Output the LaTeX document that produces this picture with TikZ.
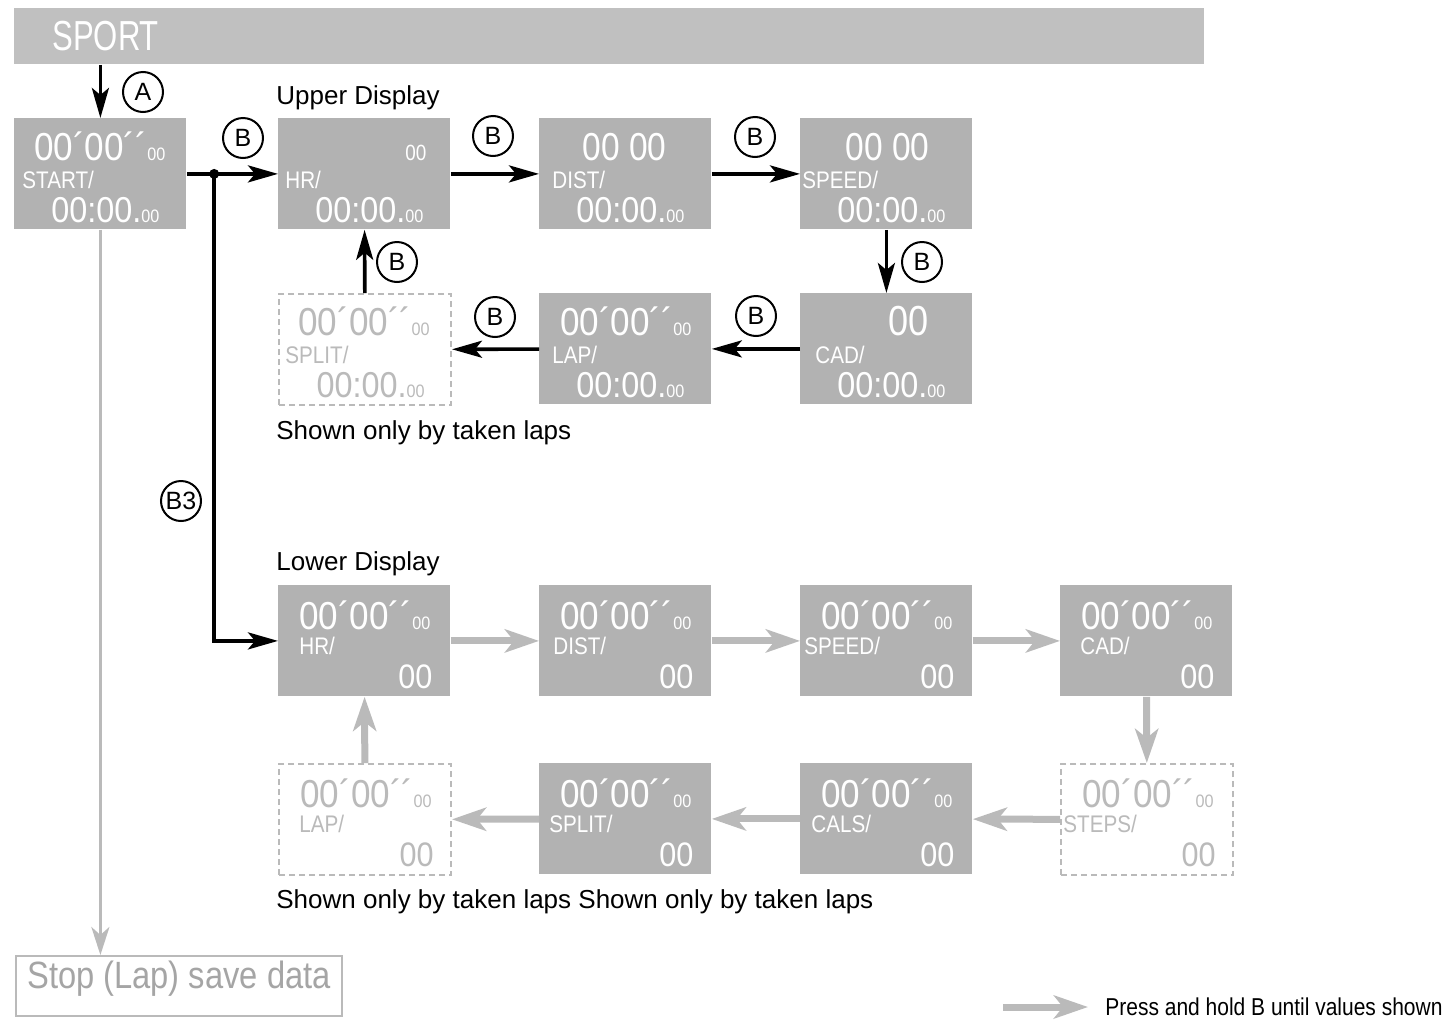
\documentclass[tikz,border=0pt]{standalone}
\usepackage{fontspec}
\setmainfont{Liberation Sans}
\newfontfamily\lcdfont[FakeStretch=0.86]{Liberation Sans}
\newfontfamily\numfont[FakeStretch=0.9]{Liberation Sans}
\newfontfamily\titlefont[FakeStretch=0.74]{Liberation Sans}
\usetikzlibrary{arrows.meta,positioning,calc}
\definecolor{panel}{RGB}{178,178,178}
\definecolor{bar}{RGB}{192,192,192}
\definecolor{faint}{RGB}{186,186,186}
\definecolor{hold}{RGB}{186,186,186}
\definecolor{stopgray}{RGB}{165,165,165}
\newcommand{\fsz}[1]{\fontsize{#1}{#1}\selectfont}
\newcommand{\watch}{\numfont{\fsz{19.5}00´00´´}{\fsz{9}00}}
\newcommand{\clock}{\numfont{\fsz{18}00:00.}{\fsz{9}00}}

\begin{document}
\begin{tikzpicture}[x=0.5pt, y=-0.5pt,
  panel/.style={fill=panel, minimum width=86pt, minimum height=55.5pt, inner sep=0pt, anchor=north west},
  ghost/.style={panel, fill=none, draw=faint, line width=1pt, dash pattern=on 3pt off 2pt},
  lcd/.style={inner sep=0pt, font=\lcdfont, text=#1},
  btn/.style={circle, draw, line width=1pt, minimum size=20pt, inner sep=0pt, font=\fsz{12.5}},
  caption/.style={anchor=base west, inner sep=0pt, font=\fsz{13}},
  push/.style={line width=1.8pt, -{Stealth[length=15pt,width=8.5pt,inset=3.5pt]}},
  hold/.style={draw=hold, line width=3.5pt, -{Stealth[length=17pt,width=11.5pt,inset=4.5pt]}}
]
\path[use as bounding box, fill=white] (0,0) rectangle (1445,1023);

% mode bar
\node[fill=bar, anchor=north west, minimum height=28pt, inner xsep=19pt, text width=557pt,
  align=left, text=white, font=\titlefont\fsz{21}] (sport) at (14,8) {SPORT};

% display boxes
\foreach \b/\x/\y in {start/14/118, hrA/278/118, distA/539/118, speedA/800/118,
  lapA/539/293, cadA/800/293, hrB/278/585, distB/539/585, speedB/800/585,
  cadB/1060/585, splitB/539/763, calsB/800/763}
  \node[panel] (\b) at (\x,\y) {};
\foreach \b/\x/\y in {splitA/278/293, stepsB/1060/763, lapB/278/763}
  \node[ghost] (\b) at (\x,\y) {};

% upper display readouts
\foreach \b/\c/\dx/\t/\lx/\l in {start/white/21/\watch/8/{START/},
  hrA/white/24/{\fsz{11}00}/7/{HR/}, distA/white/45/{\fsz{19.5}00 00}/13/{DIST/},
  speedA/white/43/{\fsz{19.5}00 00}/2/{SPEED/}, cadA/white/44/{\fsz{21}00}/15/{CAD/},
  lapA/white/20/\watch/13/{LAP/}, splitA/faint/22/\watch/7/{SPLIT/}} {
  \node[lcd=\c, anchor=base east, text depth=0pt] (\b-top) at ([shift={(-\dx,42)}]\b.north east) {\t};
  \node[lcd=\c, anchor=base west, text height=8.8pt] (\b-tag) at ([shift={(\lx,70)}]\b.north west) {\fsz{12}\l};
  \node[lcd=\c, anchor=base east] (\b-val) at ([shift={(-27,104)}]\b.north east) {\clock};
}

% lower display readouts
\foreach \b/\c/\lx/\l in {hrB/white/21/{HR/}, distB/white/14/{DIST/}, speedB/white/4/{SPEED/},
  cadB/white/20/{CAD/}, stepsB/faint/3/{STEPS/}, calsB/white/11/{CALS/},
  splitB/white/10/{SPLIT/}, lapB/faint/21/{LAP/}} {
  \node[lcd=\c, anchor=base east, text depth=0pt] (\b-top) at ([shift={(-20,44)}]\b.north east) {\watch};
  \node[lcd=\c, anchor=base west, text height=8.8pt] (\b-tag) at ([shift={(\lx,69)}]\b.north west) {\fsz{12}\l};
  \node[lcd=\c, anchor=base east] (\b-val) at ([shift={(-18,103)}]\b.north east) {\numfont\fsz{17}00};
}

\node[lcd=stopgray, draw=faint, line width=1pt, anchor=north west, minimum width=163pt,
  minimum height=30pt, text depth=11.5pt, font=\lcdfont\fsz{19}] (stop) at (15,955) {Stop (Lap) save data};

% captions
\node[caption] (upper-title) at (276,104) {Upper Display};
\node[caption] (upper-note) at (276,439) {Shown only by taken laps};
\node[caption] (lower-title) at (276,570) {Lower Display};
\node[caption] (lower-note) at (276,908) {Shown only by taken laps Shown only by taken laps};

% button marks
\node[btn] (btn-a) at (143,92) {A};
\foreach \n/\x/\y in {1/243/138, 2/493/136, 3/755/137, 4/922/262, 5/756/316, 6/495/317, 7/397/262}
  \node[btn] (btn-b\n) at (\x,\y) {B};
\node[btn] (btn-b3) at (181,501) {B3};

% upper display cycle
\draw[push] (start.north |- sport.south) -- (start.north);
\draw[push] (start.east) -- (hrA.west);
\node[circle, fill, minimum size=5pt, inner sep=0pt] (fork) at ($(start.east)!0.3!(hrA.west)$) {};
\foreach \a/\b in {hrA/distA, distA/speedA, speedA/cadA, cadA/lapA, lapA/splitA, splitA/hrA}
  \draw[push] (\a) -- (\b);
\draw[push] (fork.center) |- (hrB.west);

% lower display cycle
\foreach \a/\b in {hrB/distB, distB/speedB, speedB/cadB, cadB/stepsB, stepsB/calsB,
  calsB/splitB, splitB/lapB, lapB/hrB}
  \draw[hold] (\a) -- (\b);

\draw[draw=faint, line width=1.5pt, -{Stealth[length=14pt,width=9pt,inset=4pt]}]
  (start.south) -- (start.south |- stop.north);

% legend
\coordinate (legend-tail) at (1003,1007);
\node[anchor=west, inner xsep=8.5pt, inner ysep=0pt, font=\lcdfont\fsz{12.2}] (legend) at (1088,1007)
  {Press and hold B until values shown};
\draw[hold] (legend-tail) -- (legend.west);
\end{tikzpicture}
\end{document}
